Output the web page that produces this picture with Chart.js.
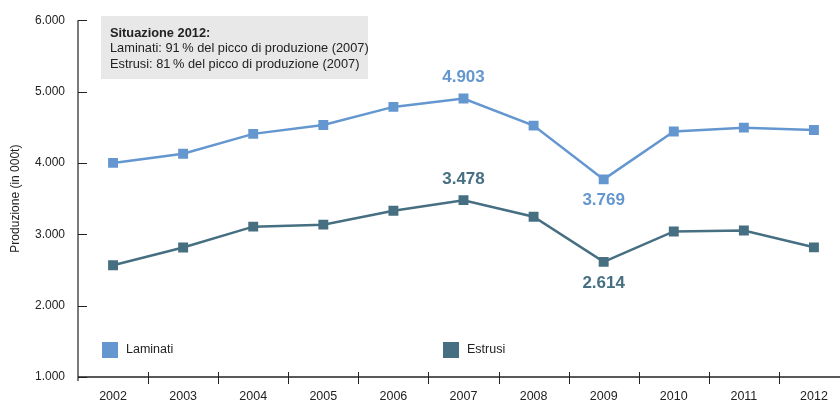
<!DOCTYPE html>
<html>
<head>
<meta charset="utf-8">
<script src="https://cdn.jsdelivr.net/npm/chart.js@4"></script>
<style>
  body { margin: 0; background: #fff; overflow: hidden; }
  #wrap { width: 840px; height: 410px; overflow: hidden; }
</style>
</head>
<body>
<div id="wrap"><canvas id="chart" width="856" height="410"></canvas></div>
<script>
// data
const years = ['2002', '2003', '2004', '2005', '2006', '2007', '2008', '2009', '2010', '2011', '2012'];
const laminati = [4000, 4129, 4407, 4532, 4785, 4903, 4523, 3769, 4440, 4494, 4462];
const estrusi = [2565, 2815, 3107, 3135, 3330, 3478, 3246, 2614, 3040, 3052, 2817];
const yTicks = [1000, 2000, 3000, 4000, 5000, 6000];
const boxLines = [
    'Situazione 2012:',
    'Laminati: 91\u2009% del picco di produzione (2007)',
    'Estrusi: 81\u2009% del picco di produzione (2007)'
];
// which points get a value label: [dataset, index, above?]
const callouts = [[0, 5, true], [0, 7, false], [1, 5, true], [1, 7, false]];

const colLam = '#6497cf';
const colEst = '#466f82';
const FONT = "'Liberation Sans', Arial, Helvetica, sans-serif";

function fmt(v) {
    return Math.round(v).toString().replace(/\B(?=(\d{3})+(?!\d))/g, '.');
}

// axes, info box and legend drawn by hand
const decor = {
    id: 'decor',
    beforeDatasetsDraw(chart) {
        const ctx = chart.ctx;
        const area = chart.chartArea;
        const xs = chart.scales.x;
        const ys = chart.scales.y;
        ctx.save();

        // info box
        ctx.fillStyle = '#e8e8e8';
        ctx.fillRect(101, 16, 267, 63);
        ctx.fillStyle = '#222';
        ctx.textBaseline = 'middle';
        ctx.textAlign = 'left';
        boxLines.forEach((t, i) => {
            ctx.font = (i === 0 ? 'bold ' : '') + '12.8px ' + FONT;
            ctx.fillText(t, 110, 33 + i * 15.5);
        });

        // y axis line + inward ticks
        ctx.strokeStyle = '#7a7a7a';
        ctx.lineWidth = 2;
        ctx.beginPath();
        ctx.moveTo(area.left, area.top);
        ctx.lineTo(area.left, area.bottom + 4);
        ctx.stroke();
        ctx.strokeStyle = '#222';
        ctx.lineWidth = 1;
        yTicks.forEach(v => {
            const y = Math.round(ys.getPixelForValue(v)) + 0.5;
            ctx.beginPath();
            ctx.moveTo(area.left, y);
            ctx.lineTo(area.left + 9, y);
            ctx.stroke();
        });

        // x axis line + ticks between categories
        ctx.strokeStyle = '#222';
        ctx.lineWidth = 1.5;
        ctx.beginPath();
        ctx.moveTo(area.left, area.bottom);
        ctx.lineTo(area.right, area.bottom);
        ctx.stroke();
        ctx.lineWidth = 1;
        for (let i = 0; i < years.length; i++) {
            const x = Math.round((xs.getPixelForValue(i) + xs.getPixelForValue(i + 1)) / 2) + 0.5;
            ctx.beginPath();
            ctx.moveTo(x, area.bottom - 5);
            ctx.lineTo(x, area.bottom + 7);
            ctx.stroke();
        }

        // legend
        const legendX = [102, 443];
        chart.data.datasets.forEach((ds, i) => {
            ctx.fillStyle = ds.borderColor;
            ctx.fillRect(legendX[i], 342, 16, 16);
            ctx.fillStyle = '#222';
            ctx.font = '12.5px ' + FONT;
            ctx.fillText(ds.label, legendX[i] + 24, 350);
        });
        ctx.restore();
    },
    afterDatasetsDraw(chart) {
        const ctx = chart.ctx;
        ctx.save();
        ctx.font = 'bold 17px ' + FONT;
        ctx.textAlign = 'center';
        ctx.textBaseline = 'middle';
        callouts.forEach(([d, i, above]) => {
            const ds = chart.data.datasets[d];
            const pt = chart.getDatasetMeta(d).data[i];
            ctx.fillStyle = ds.borderColor;
            ctx.fillText(fmt(ds.data[i]), pt.x, pt.y + (above ? -21 : 21));
        });
        ctx.restore();
    }
};

function makeSeries(label, data, color) {
    return {
        label: label,
        data: data,
        borderColor: color,
        backgroundColor: color,
        borderWidth: 2.5,
        pointStyle: 'rect',
        pointRadius: 7,
        pointHoverRadius: 7,
        pointBorderWidth: 0,
        tension: 0
    };
}

const myChart = new Chart(document.getElementById('chart'), {
    type: 'line',
    data: {
        labels: years,
        datasets: [
            makeSeries('Laminati', laminati, colLam),
            makeSeries('Estrusi', estrusi, colEst)
        ]
    },
    plugins: [decor],
    options: {
        responsive: false,
        animation: false,
        layout: { padding: { top: 17, right: 2, left: 0, bottom: 0 } },
        plugins: {
            legend: { display: false },
            tooltip: { enabled: false }
        },
        scales: {
            x: {
                type: 'category',
                offset: true,
                grid: { display: false, drawTicks: false },
                border: { display: false },
                ticks: {
                    padding: 12,
                    color: '#222',
                    font: { family: FONT, size: 12.5 },
                    maxRotation: 0,
                    autoSkip: false
                },
                afterFit(s) { s.height = 33; }
            },
            y: {
                min: 1000,
                max: 6000,
                afterBuildTicks(s) { s.ticks = yTicks.map(v => ({ value: v })); },
                grid: { display: false, drawTicks: false },
                border: { display: false },
                ticks: {
                    padding: 13,
                    color: '#222',
                    font: { family: FONT, size: 12 },
                    callback: v => fmt(v)
                },
                title: {
                    display: true,
                    text: 'Produzione (in 000t)',
                    color: '#222',
                    font: { family: FONT, size: 12 },
                    padding: { top: 8, bottom: 0 }
                },
                afterFit(s) { s.width = 78; }
            }
        }
    }
});
</script>
</body>
</html>
